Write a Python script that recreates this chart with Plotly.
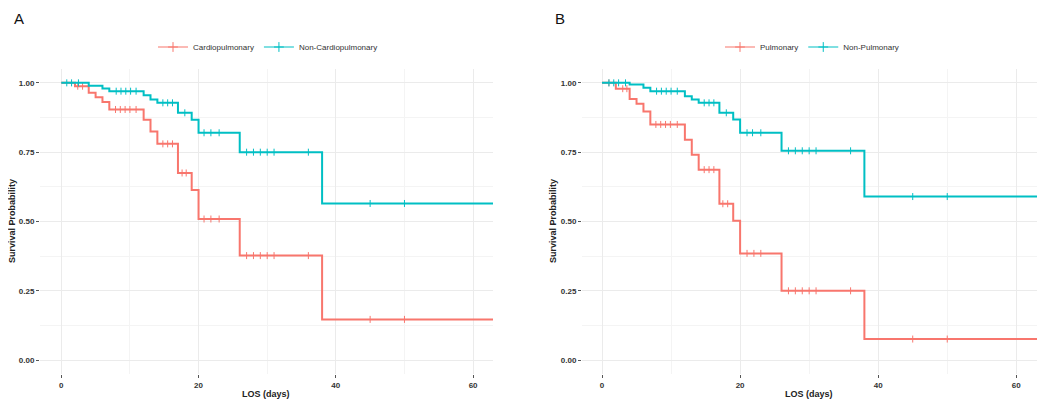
import numpy as np
import plotly.graph_objects as go

# ---------------- data ----------------
# Panel A
cardio_t = [0, 2, 4, 5, 6, 7, 12, 13, 14, 17, 19, 20, 26, 38, 63]
cardio_s = [1.0, 0.988, 0.964, 0.948, 0.931, 0.904, 0.867, 0.825, 0.78, 0.675, 0.614, 0.509, 0.377, 0.147, 0.147]
cardio_cens = [2.4, 3.1, 7.9, 8.6, 9.3, 10.0, 10.9, 14.8, 15.5, 16.2, 17.6, 18.2,
               20.8, 21.8, 23.0, 27, 28, 29, 30, 31, 36, 45, 50]

noncardio_t = [0, 4, 6, 7, 12, 13, 14, 17, 19, 20, 26, 38, 63]
noncardio_s = [1.0, 0.99, 0.98, 0.97, 0.955, 0.94, 0.928, 0.892, 0.867, 0.82, 0.75, 0.565, 0.565]
noncardio_cens = [0.8, 1.5, 2.5, 8.0, 8.7, 9.4, 10.1, 10.9, 14.8, 15.5, 16.2, 18.0,
                  20.8, 21.8, 23.0, 27, 28, 29, 30, 31, 36, 45, 50]

# Panel B
pulm_t = [0, 2, 4, 5, 6, 7, 12, 13, 14, 17, 19, 20, 26, 38, 63]
pulm_s = [1.0, 0.979, 0.942, 0.925, 0.897, 0.85, 0.795, 0.741, 0.687, 0.564, 0.503, 0.385, 0.25, 0.076, 0.076]
pulm_cens = [1.0, 3.0, 3.6, 7.8, 8.5, 9.2, 9.9, 10.9, 14.8, 15.5, 16.2, 17.5, 18.2,
             21, 22, 23, 27, 28, 29, 30, 31, 36, 45, 50]

nonpulm_t = [0, 4, 6, 7, 12, 13, 14, 17, 19, 20, 26, 38, 63]
nonpulm_s = [1.0, 0.994, 0.982, 0.97, 0.952, 0.94, 0.928, 0.892, 0.868, 0.82, 0.755, 0.59, 0.59]
nonpulm_cens = [1.0, 1.7, 2.4, 3.4, 7.9, 8.6, 9.3, 10.0, 10.9, 14.8, 15.5, 16.2, 18.0,
                21, 21.8, 23, 27, 28, 29, 30, 31, 36, 45, 50]

x_ticks = [0, 20, 40, 60]
y_ticks = [0.0, 0.25, 0.5, 0.75, 1.0]
y_tick_labels = ["0.00", "0.25", "0.50", "0.75", "1.00"]

RED = "#F8766D"
TEAL = "#00BFC4"
FONT = "Arial"


def step_at(t, s, c):
    t = np.asarray(t, float)
    s = np.asarray(s, float)
    idx = np.searchsorted(t, np.asarray(c, float), side="right") - 1
    return s[idx]


fig = go.Figure()


def add_curve(t, s, cens, color, name, xa, ya, legend):
    fig.add_trace(go.Scatter(x=t, y=s, mode="lines", line=dict(color=color, width=2, shape="hv"),
                             xaxis=xa, yaxis=ya, showlegend=False, hoverinfo="skip"))
    fig.add_trace(go.Scatter(x=cens, y=step_at(t, s, cens), mode="markers",
                             marker=dict(symbol="line-ns", size=5, color=color,
                                         line=dict(color=color, width=1)),
                             xaxis=xa, yaxis=ya, showlegend=False, hoverinfo="skip"))
    fig.add_trace(go.Scatter(x=[None], y=[None], mode="lines+markers", name=name,
                             line=dict(color=color, width=1.2),
                             marker=dict(symbol="cross-thin", size=7, color=color,
                                         line=dict(color=color, width=1)),
                             xaxis=xa, yaxis=ya, legend=legend))


add_curve(cardio_t, cardio_s, cardio_cens, RED, "Cardiopulmonary", "x", "y", "legend")
add_curve(noncardio_t, noncardio_s, noncardio_cens, TEAL, "Non-Cardiopulmonary", "x", "y", "legend")
add_curve(pulm_t, pulm_s, pulm_cens, RED, "Pulmonary", "x2", "y2", "legend2")
add_curve(nonpulm_t, nonpulm_s, nonpulm_cens, TEAL, "Non-Pulmonary", "x2", "y2", "legend2")

W, H = 1050, 407
OFF = 8  # page body margin offset


def px_x(p):
    return (p - OFF) / W


def px_y(p):
    return 1 - (p - OFF) / H


ydom = [px_y(374), px_y(69)]
tickfont = dict(family=FONT, size=8, color="#333333", weight="bold")

common_x = dict(tickvals=x_ticks, ticks="outside", ticklen=3, tickcolor="#555555", tickwidth=1,
                showgrid=True, gridcolor="#EBEBEB", gridwidth=1, zeroline=False, showline=False,
                tickfont=tickfont, automargin=False,
                minor=dict(dtick=10, tick0=0, showgrid=True, gridcolor="#F4F4F4", gridwidth=0.8, ticks=""))
common_y = dict(tickvals=y_ticks, ticktext=y_tick_labels, ticks="outside", ticklen=3, tickcolor="#555555",
                tickwidth=1, showgrid=True, gridcolor="#EBEBEB", gridwidth=1, zeroline=False, showline=False,
                tickfont=tickfont, automargin=False, range=[-0.05, 1.05],
                minor=dict(dtick=0.125, tick0=0, showgrid=True, gridcolor="#F4F4F4", gridwidth=0.8, ticks=""))

fig.update_layout(
    width=W, height=H,
    margin=dict(l=0, r=0, t=0, b=0),
    paper_bgcolor="white", plot_bgcolor="white",
    font=dict(family=FONT, color="#222222"),
    xaxis=dict(domain=[px_x(40), px_x(493)], range=[-3.1, 62.9], anchor="y", **common_x),
    yaxis=dict(domain=ydom, anchor="x", **common_y),
    xaxis2=dict(domain=[px_x(582), px_x(1037)], range=[-2.9, 63.0], anchor="y2", **common_x),
    yaxis2=dict(domain=ydom, anchor="x2", **common_y),
    legend=dict(orientation="h", x=px_x(268), xanchor="center", y=px_y(47), yanchor="middle",
                font=dict(family=FONT, size=8, color="#333333"), itemwidth=30,
                bgcolor="rgba(0,0,0,0)"),
    legend2=dict(orientation="h", x=px_x(812), xanchor="center", y=px_y(47), yanchor="middle",
                 font=dict(family=FONT, size=8, color="#333333"), itemwidth=30,
                 bgcolor="rgba(0,0,0,0)"),
    showlegend=True,
)

annots = [
    dict(text="A", x=px_x(12), y=1, xanchor="left", yanchor="top", font=dict(size=15, color="#111111")),
    dict(text="B", x=px_x(553), y=1, xanchor="left", yanchor="top", font=dict(size=15, color="#111111")),
    dict(text="LOS (days)", x=px_x(266), y=px_y(394), xanchor="center", yanchor="middle",
         font=dict(size=9, color="#222222", weight="bold")),
    dict(text="LOS (days)", x=px_x(809), y=px_y(394), xanchor="center", yanchor="middle",
         font=dict(size=9, color="#222222", weight="bold")),
    dict(text="Survival Probability", x=px_x(12), y=px_y(221), xanchor="center", yanchor="middle",
         textangle=-90, font=dict(size=9, color="#222222", weight="bold")),
    dict(text="Survival Probability", x=px_x(553), y=px_y(221), xanchor="center", yanchor="middle",
         textangle=-90, font=dict(size=9, color="#222222", weight="bold")),
]
for a in annots:
    a.update(xref="paper", yref="paper", showarrow=False)
    fig.add_annotation(**a)

fig.write_html("out.html")
